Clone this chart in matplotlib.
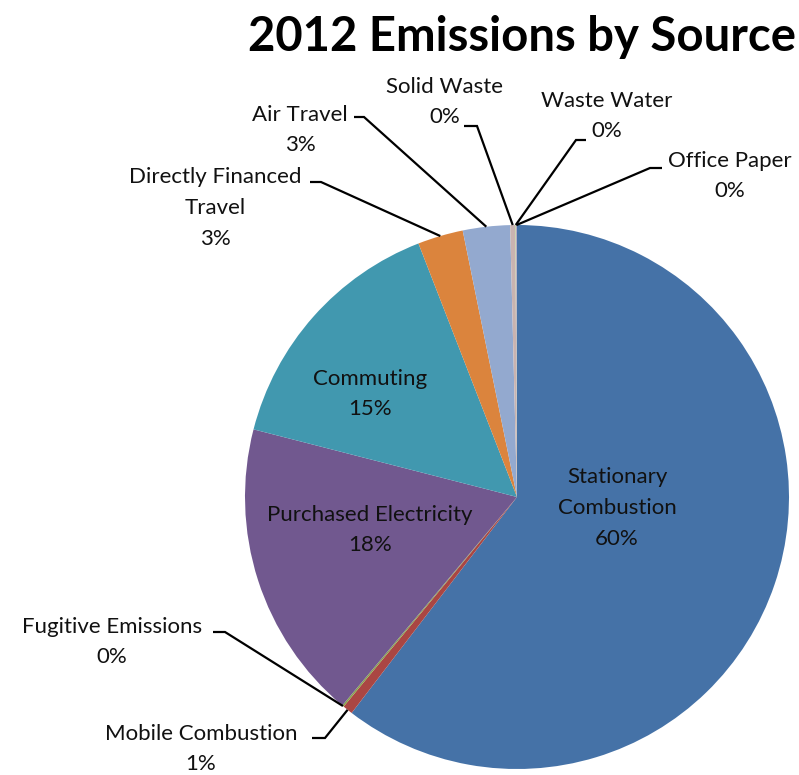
import matplotlib
matplotlib.use("Agg")
import matplotlib.pyplot as plt
import numpy as np

W, H = 799, 775

sources = ["Stationary\nCombustion", "Mobile Combustion", "Fugitive Emissions",
           "Purchased Electricity", "Commuting", "Directly Financed\nTravel",
           "Air Travel", "Solid Waste", "Waste Water", "Office Paper"]
shares = [60.4, 0.6, 0.1, 17.9, 15.1, 2.7, 2.8, 0.3, 0.05, 0.05]
colors = ["#4572A7", "#AA4643", "#89A54E", "#71588F", "#4198AF",
          "#DB843D", "#93A9CF", "#C9B3B0", "#B9CD96", "#A99BBD"]

# label placement in image pixels (y measured from top)
# inside labels: text centre only; outside: text centre, knee of leader, end of leader
inside = {0: (617, 508), 3: (370, 530), 4: (370, 394)}
outside = {
    1: ((201, 749), (325, 738), 312),
    2: ((112, 642), (225, 632), 213),
    5: ((215, 208), (321, 182), 310),
    6: ((300, 130), (364, 117), 354),
    7: ((445, 102), (477, 126), 464),
    8: ((607, 116), (576, 140), 586),
    9: ((730, 176), (650, 168), 662),
}

plt.rcParams["font.family"] = ["Lato", "DejaVu Sans"]

fig = plt.figure(figsize=(W / 100, H / 100), dpi=100)
ax = fig.add_axes([0, 0, 1, 1])

cx, cy, r = 517, H - 497, 272
wedges, _ = ax.pie(shares, colors=colors, startangle=90, counterclock=False,
                   center=(cx, cy), radius=r, wedgeprops=dict(linewidth=0))
ax.set_xlim(0, W)
ax.set_ylim(0, H)
ax.set_aspect("equal")
ax.axis("off")


def label(i):
    return f"{sources[i]}\n{shares[i]:.0f}%"


for i, (x, y) in inside.items():
    ax.text(x, H - y, label(i), ha="center", va="center", fontsize=16,
            linespacing=1.67, color="#111111")

for i, ((tx, ty), (kx, ky), ex) in outside.items():
    w = wedges[i]
    mid = np.deg2rad((w.theta1 + w.theta2) / 2)
    px, py = cx + r * np.cos(mid), cy + r * np.sin(mid)
    ax.plot([px, kx, ex], [py, H - ky, H - ky], color="black", lw=1.6,
            solid_capstyle="butt", solid_joinstyle="miter")
    ax.text(tx, H - ty, label(i), ha="center", va="center", fontsize=16,
            linespacing=1.67, color="#111111")

ax.text(248, H - 51, "2012 Emissions by Source", ha="left", va="baseline",
        fontsize=34, fontweight="bold")

fig.savefig("out.png", dpi=100)
